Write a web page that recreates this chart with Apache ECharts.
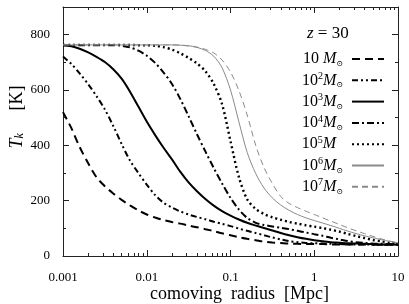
<!DOCTYPE html>
<html><head><meta charset="utf-8">
<script src="https://cdn.jsdelivr.net/npm/echarts@6/dist/echarts.min.js"></script>
<style>html,body{margin:0;padding:0;background:#fff}#c{width:409px;height:304px}</style>
</head><body><div id="c"></div>
<script>
// comoving radius [Mpc] (0.1-decade grid)
const radius = [0.001,0.00126,0.00158,0.002,0.00251,0.00316,0.00398,0.00501,0.00631,0.00794,
  0.01,0.0126,0.0158,0.02,0.0251,0.0316,0.0398,0.0501,0.0631,0.0794,
  0.1,0.126,0.158,0.2,0.251,0.316,0.398,0.501,0.631,0.794,
  1,1.26,1.58,2,2.51,3.16,3.98,5.01,6.31,7.94,10];
// T_k [K] for each halo mass
const tk1e1 = [520,462,394,335,285,252,226,203,183,165,150,139,130,123,117,110,104,97,90,82,75,68,62,57,52,49,47,45,44,43,43,43,42,42,42,42,42,41,41,41,41];
const tk1e2 = [721,694,660,621,578,530,470,405,345,300,258,220,193,175,161,150,141,133,124,116,108,99,91,83,75,67,60,54,50,47,46,45,44,43,42,42,42,41,41,41,41];
const tk1e3 = [762,758,749,736,720,701,675,641,594,540,486,437,392,349,305,266,234,206,182,162,146,132,120,110,101,92,83,75,68,62,57,53,50,48,46,45,44,43,42,42,41];
const tk1e4 = [762,762,762,762,762,762,762,760,754,742,724,698,664,622,568,505,440,378,318,262,210,168,138,120,112,107,102,97,91,85,79,73,66,60,54,50,47,45,44,43,42];
const tk1e5 = [763,763,763,763,763,763,763,763,763,762,762,760,755,746,733,716,696,668,622,548,415,285,205,170,152,140,131,123,117,111,106,101,95,88,80,72,65,58,53,48,45];
const tk1e6 = [763,763,763,763,763,763,763,763,763,763,763,763,763,763,762,760,754,743,722,680,600,485,375,298,246,210,184,165,150,138,128,119,110,100,90,81,73,66,59,53,48];
const tk1e7 = [763,763,763,763,763,763,763,763,763,763,763,763,763,763,762,759,755,747,734,708,665,598,510,400,320,262,215,190,175,162,150,138,126,114,102,91,81,71,62,54,47];

const seriesNames = ['10 M⊙','10²M⊙','10³M⊙','10⁴M⊙','10⁵M','10⁶M⊙','10⁷M⊙'];
const legendLabels = ['10 {i|M}{sub|⊙}{pad| }','10{sup|2}{i|M}{sub|⊙}{pad| }','10{sup|3}{i|M}{sub|⊙}{pad| }','10{sup|4}{i|M}{sub|⊙}{pad| }','10{sup|5}{i|M}{padw| }','10{sup|6}{i|M}{sub|⊙}{pad| }','10{sup|7}{i|M}{sub|⊙}{pad| }'];
const xTickValues = [0.001,0.01,0.1,1,10];
const xTickLabels = ['0.001','0.01','0.1','1','10'];
const xMinorMult = [2,3,4,5,6,7,8,9];
const yTickLabels = ['0','200','400','600','800'];

const FONT = 'Liberation Serif';
const temps = [tk1e1,tk1e2,tk1e3,tk1e4,tk1e5,tk1e6,tk1e7];
const styles = [
  {color:'#000', width:2, type:[8,5]},
  {color:'#000', width:2, type:[6,3,2,3,2,3]},
  {color:'#000', width:2, type:'solid'},
  {color:'#000', width:2, type:[7,3,2,3]},
  {color:'#000', width:2.4, type:[2,3]},
  {color:'#8a8a8a', width:1, type:'solid'},
  {color:'#8a8a8a', width:1, type:[6,4]}
];
const xMinorValues = [];
xTickValues.slice(0,-1).forEach(d => xMinorMult.forEach(m => xMinorValues.push(+(d*m).toPrecision(3))));

const chart = echarts.init(document.getElementById('c'), null, {renderer:'canvas'});
const AX = '#222';
const mkX = (pos, showLabel, minor) => ({
  type:'log', logBase:10, min:0.001, max:10, position:pos, gridIndex:0,
  axisLine:{show:!minor, lineStyle:{color:AX, width:1}},
  axisTick:{show:true, inside:true, length:minor?3:6, lineStyle:{color:AX},
    customValues: minor ? xMinorValues : xTickValues},
  minorTick:{show:false}, splitLine:{show:false}, minorSplitLine:{show:false},
  axisLabel:{show:showLabel, fontFamily:FONT, fontSize:13, color:'#000', margin:15,
    customValues: xTickValues,
    formatter: v => { const i = xTickValues.findIndex(t => Math.abs(t - v) / t < 1e-6); return i >= 0 ? xTickLabels[i] : ''; }}
});
const mkY = (pos, showLabel) => ({
  type:'value', min:0, max:900, interval:200, position:pos, gridIndex:0,
  axisLine:{show:true, lineStyle:{color:AX, width:1}},
  axisTick:{show:true, inside:true, length:6, lineStyle:{color:AX}},
  minorTick:{show:true, splitNumber:2, length:3, lineStyle:{color:AX}},
  splitLine:{show:false},
  axisLabel:{show:showLabel, fontFamily:FONT, fontSize:13, color:'#000', margin:13, showMaxLabel:false,
    formatter: v => { const i = yTickLabels.indexOf(String(v)); return i >= 0 ? yTickLabels[i] : ''; }}
});

chart.setOption({
  animation:false,
  backgroundColor:'#fff',
  grid:{left:63, right:11, top:7, bottom:48, containLabel:false},
  xAxis:[mkX('bottom', true, false), mkX('bottom', false, true), mkX('top', false, false), mkX('top', false, true)],
  yAxis:[mkY('left', true), mkY('right', false)],
  title:{text:'{i|z} = 30', left:302, top:20,
    textStyle:{fontFamily:FONT, fontSize:17, fontWeight:'normal', color:'#000',
      rich:{i:{fontFamily:FONT, fontSize:17, fontStyle:'italic'}}}},
  legend:{
    orient:'vertical', right:19, top:45, align:'right', itemWidth:32, itemHeight:14, itemGap:3.3,
    data: seriesNames,
    itemStyle:{opacity:0},
    formatter: name => legendLabels[seriesNames.indexOf(name)],
    textStyle:{fontFamily:FONT, fontSize:16, color:'#000', lineHeight:18,
      rich:{
        i:{fontFamily:FONT, fontSize:16, fontStyle:'italic', lineHeight:18},
        sup:{fontFamily:FONT, fontSize:10, verticalAlign:'top', lineHeight:10},
        sub:{fontFamily:'DejaVu Serif', fontSize:8, verticalAlign:'bottom', lineHeight:8},
        pad:{width:4, fontSize:8},
        padw:{width:11, fontSize:8}
      }}
  },
  graphic:[
    {type:'text', left:150, top:285, style:{text:'comoving  radius  [Mpc]', font:'18px "Liberation Serif"', fill:'#000'}},
    {type:'text', x:17, y:117, rotation:Math.PI/2, style:{text:'{i|T}{sub|k}     [K]', font:'18px "Liberation Serif"', fill:'#000', align:'center', verticalAlign:'middle',
      rich:{i:{fontStyle:'italic', fontFamily:FONT, fontSize:18}, sub:{fontStyle:'italic', fontFamily:FONT, fontSize:12, verticalAlign:'bottom', lineHeight:10}}}}
  ],
  series: temps.map((t,i) => ({
    name: seriesNames[i], type:'line', xAxisIndex:0, yAxisIndex:0,
    data: radius.map((r,j) => [r, t[j]]), smooth:0.3, symbol:'none', showSymbol:false,
    lineStyle:{color:styles[i].color, width:styles[i].width, type:styles[i].type},
    itemStyle:{color:styles[i].color}
  }))
});
</script></body></html>
